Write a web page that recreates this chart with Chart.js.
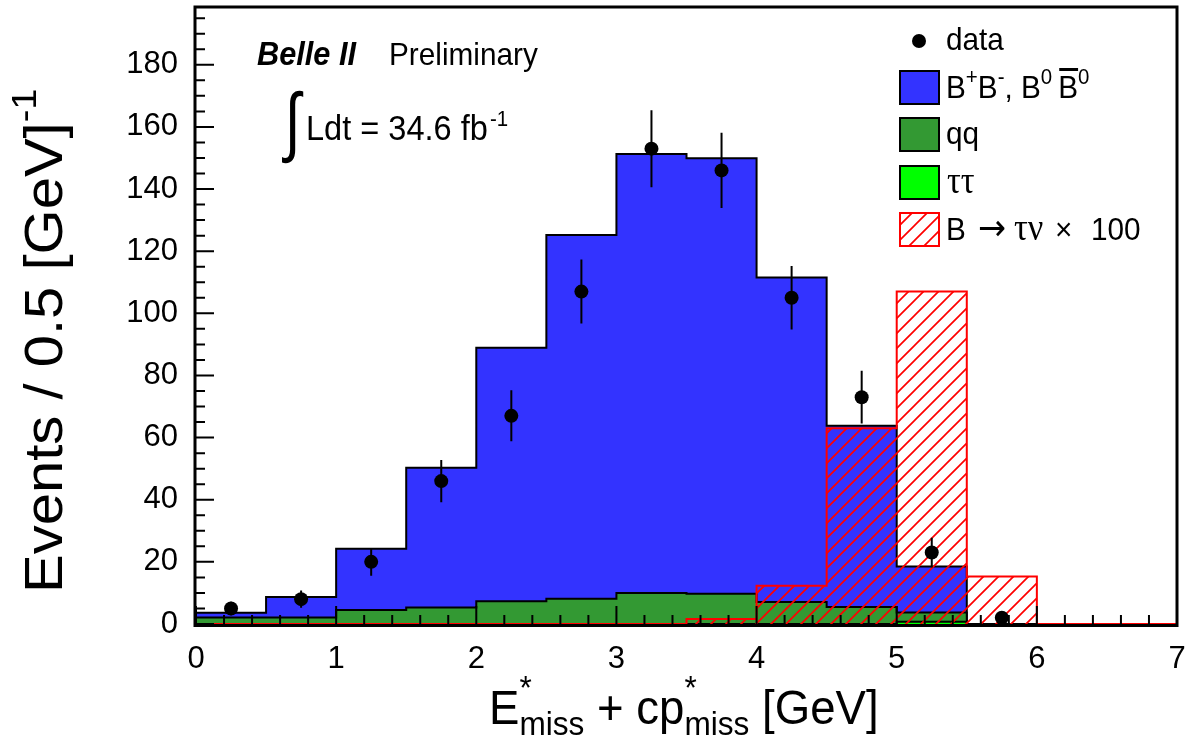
<!DOCTYPE html>
<html>
<head>
<meta charset="utf-8">
<script src="https://cdn.jsdelivr.net/npm/chart.js@4.4.1/dist/chart.umd.min.js"></script>
<style>
  html, body { margin: 0; padding: 0; background: #fff; }
</style>
</head>
<body>
<canvas id="c" width="1199" height="744"></canvas>
<script>
// histogram bins: low edges, 0.5 GeV wide
const binLow = [0, 0.5, 1, 1.5, 2, 2.5, 3, 3.5, 4, 4.5, 5, 5.5, 6, 6.5];
const xMax = 7;

// MC components (stacked: tautau at the bottom, then qq, then B B-bar)
const tautau = [0, 0, 0, 0, 0, 0, 0, 0, 0, 0, 0.7, 0, 0, 0];
const qq     = [2.1, 2.1, 4.5, 5.3, 7.3, 8.1, 10.0, 9.7, 7.1, 5.5, 3.0, 0, 0, 0];
const bbbar  = [1.5, 6.6, 19.7, 45.0, 81.6, 117.1, 141.3, 140.2, 104.4, 58.3, 14.8, 0, 0, 0];
// B -> tau nu signal, scaled x100 (drawn on its own, not stacked)
const signal = [0, 0, 0, 0, 0, 0, 0, 1.6, 12.3, 63.0, 107.0, 15.3, 0, 0];

// data points
const dataX   = [0.25, 0.75, 1.25, 1.75, 2.25, 2.75, 3.25, 3.75, 4.25, 4.75, 5.25, 5.75];
const dataY   = [5, 8, 20, 46, 67, 107, 153, 146, 105, 73, 23, 2];
const dataErr = [2.2, 2.8, 4.5, 6.8, 8.2, 10.3, 12.4, 12.1, 10.2, 8.5, 4.8, 1.4];

const xTickLabels = ['0', '1', '2', '3', '4', '5', '6', '7'];
const yTickLabels = ['0', '20', '40', '60', '80', '100', '120', '140', '160', '180'];

const SANS = '"Liberation Sans", Arial, Helvetica, sans-serif';
const SERIF = '"Liberation Serif", "Times New Roman", serif';
const BLUE = '#3333ff', GREEN = '#339933', LIME = '#00ff00', RED = '#ff0000';
const HX = 0.93; // text in the original is a bit narrow

const canvas = document.getElementById('c');

function hatch() {
    const s = 15;
    const c = document.createElement('canvas');
    c.width = s; c.height = s;
    const g = c.getContext('2d');
    g.strokeStyle = RED;
    g.lineWidth = 1.7;
    g.beginPath();
    g.moveTo(0, s); g.lineTo(s, 0);
    g.moveTo(-2, 2); g.lineTo(2, -2);
    g.moveTo(s - 2, s + 2); g.lineTo(s + 2, s - 2);
    g.stroke();
    return canvas.getContext('2d').createPattern(c, 'repeat');
}
const HATCH = hatch();

// step points from bin contents
const steps = vals => binLow.map((x, i) => ({ x, y: vals[i] })).concat([{ x: xMax, y: vals[vals.length - 1] }]);

const stackTT = tautau;
const stackQQ = qq.map((v, i) => v + tautau[i]);
const stackAll = bbbar.map((v, i) => v + stackQQ[i]);

const histo = (label, vals, fillColor, lineColor, order) => ({
    label,
    data: steps(vals),
    stepped: true,
    fill: 'origin',
    backgroundColor: fillColor,
    borderColor: lineColor,
    borderWidth: 2,
    pointRadius: 0,
    order,
});

// draw a run of text pieces (super/subscripts via dy), slightly condensed
function rich(ctx, x, y, parts) {
    for (const p of parts) {
        ctx.font = p.f;
        ctx.save();
        ctx.translate(x + (p.dx || 0), y + (p.dy || 0));
        ctx.scale(HX, 1);
        ctx.fillText(p.t, 0, 0);
        ctx.restore();
        if (!p.stay) x += ctx.measureText(p.t).width * HX + (p.dx || 0);
    }
    return x;
}

// frame + inward ticks (ROOT style)
const framePlugin = {
    id: 'frame',
    afterDraw(chart) {
        const { ctx, chartArea: a, scales: { x, y } } = chart;
        ctx.save();
        ctx.strokeStyle = '#000';
        ctx.lineWidth = 2;
        ctx.beginPath();
        for (let v = 0; v <= y.max; v += 5) {
            const py = y.getPixelForValue(v);
            ctx.moveTo(a.left, py);
            ctx.lineTo(a.left + (v % 20 === 0 ? 18 : 9), py);
        }
        for (let k = 0; k <= 35; k++) {
            const px = x.getPixelForValue(k * 0.2);
            ctx.moveTo(px, a.bottom);
            ctx.lineTo(px, a.bottom - (k % 5 === 0 ? 18 : 9));
        }
        ctx.stroke();
        ctx.lineWidth = 3;
        ctx.strokeRect(a.left - 1, a.top, a.right - a.left + 1, a.bottom - a.top + 1.5);
        ctx.restore();
    },
};

// error bars for the data points
const errorBarPlugin = {
    id: 'errbars',
    afterDatasetsDraw(chart) {
        const { ctx, chartArea: a, scales: { x, y } } = chart;
        ctx.save();
        ctx.beginPath();
        ctx.rect(a.left, a.top, a.right - a.left, a.bottom - a.top);
        ctx.clip();
        ctx.strokeStyle = '#000';
        ctx.lineWidth = 2;
        ctx.beginPath();
        dataX.forEach((xv, i) => {
            const px = x.getPixelForValue(xv);
            ctx.moveTo(px, y.getPixelForValue(dataY[i] - dataErr[i]));
            ctx.lineTo(px, y.getPixelForValue(dataY[i] + dataErr[i]));
        });
        ctx.stroke();
        ctx.restore();
    },
};

// titles, labels, legend
const textPlugin = {
    id: 'texts',
    afterDraw(chart) {
        const ctx = chart.ctx;
        ctx.save();
        ctx.fillStyle = '#000';
        ctx.textBaseline = 'alphabetic';
        ctx.textAlign = 'left';

        // y title (rotated); rich() squeezes along the text, so undo that and squeeze across
        ctx.save();
        ctx.translate(62, 593);
        ctx.rotate(-Math.PI / 2);
        ctx.scale(1 / HX, HX);
        rich(ctx, 0, 0, [
            { t: 'Events / 0.5 [GeV]', f: `58px ${SANS}` },
            { t: '-1', f: `38px ${SANS}`, dy: -28 },
        ]);
        ctx.restore();

        // x title
        rich(ctx, 489, 724, [
            { t: 'E', f: `49px ${SANS}` },
            { t: '*', f: `34px ${SANS}`, dy: -25, stay: true },
            { t: 'miss', f: `34px ${SANS}`, dy: 11 },
            { t: ' + cp', f: `49px ${SANS}` },
            { t: '*', f: `34px ${SANS}`, dy: -25, stay: true },
            { t: 'miss', f: `34px ${SANS}`, dy: 11 },
            { t: ' [GeV]', f: `49px ${SANS}` },
        ]);

        // Belle II label
        rich(ctx, 257, 65, [{ t: 'Belle II', f: `italic bold 33px ${SANS}` }]);
        rich(ctx, 389, 65, [{ t: 'Preliminary', f: `32px ${SANS}` }]);

        // integral sign stretched into its box
        ctx.save();
        ctx.font = `60px ${SANS}`;
        const m = ctx.measureText('\u222B');
        const gw = m.actualBoundingBoxRight + m.actualBoundingBoxLeft;
        const gh = m.actualBoundingBoxAscent + m.actualBoundingBoxDescent;
        ctx.translate(282, 90);
        ctx.scale(22 / gw, 74 / gh);
        ctx.fillText('\u222B', m.actualBoundingBoxLeft, m.actualBoundingBoxAscent);
        ctx.restore();

        const xe = rich(ctx, 306, 140, [{ t: 'Ldt = 34.6 fb', f: `35px ${SANS}` }]);
        rich(ctx, xe + 2, 126, [{ t: '-1', f: `22px ${SANS}` }]);

        // legend
        ctx.beginPath();
        ctx.arc(919, 41, 7, 0, Math.PI * 2);
        ctx.fill();
        rich(ctx, 946, 50, [{ t: 'data', f: `32px ${SANS}` }]);

        const box = (y, fill, stroke) => {
            ctx.fillStyle = fill;
            ctx.fillRect(900, y, 39, 33);
            ctx.strokeStyle = stroke;
            ctx.lineWidth = 2;
            ctx.strokeRect(900, y, 39, 33);
            ctx.fillStyle = '#000';
        };
        box(71, BLUE, '#000');
        box(118, GREEN, '#000');
        box(166, LIME, '#000');
        box(213, HATCH, RED);

        const sup = t => ({ t, f: `22px ${SANS}`, dy: -14 });
        let xb = rich(ctx, 946, 98, [
            { t: 'B', f: `32px ${SANS}` }, sup('+'),
            { t: 'B', f: `32px ${SANS}` }, sup('-'),
            { t: ', B', f: `32px ${SANS}` }, sup('0'),
        ]);
        xb += 6;
        ctx.font = `32px ${SANS}`;
        const bw = ctx.measureText('B').width * HX;
        ctx.fillRect(xb + 1, 68, bw - 1, 3);
        rich(ctx, xb, 98, [{ t: 'B', f: `32px ${SANS}` }, sup('0')]);

        rich(ctx, 946, 144, [{ t: 'qq', f: `32px ${SANS}` }]);
        rich(ctx, 947, 193, [{ t: '\u03C4\u03C4', f: `37px ${SERIF}` }]);

        rich(ctx, 946, 240, [{ t: 'B', f: `32px ${SANS}` }]);
        rich(ctx, 978, 240, [{ t: '\u2192', f: `36px "DejaVu Sans", ${SANS}` }]);
        rich(ctx, 1014, 240, [{ t: '\u03C4\u03BD', f: `37px ${SERIF}` }]);
        rich(ctx, 1055, 240, [{ t: '\u00D7', f: `32px ${SANS}` }]);
        rich(ctx, 1091, 240, [{ t: '100', f: `32px ${SANS}` }]);

        ctx.restore();
    },
};

new Chart(canvas, {
    type: 'line',
    plugins: [errorBarPlugin, framePlugin, textPlugin],
    data: {
        datasets: [
            {
                label: 'data',
                type: 'scatter',
                data: dataX.map((x, i) => ({ x, y: dataY[i] })),
                pointRadius: 7,
                pointBackgroundColor: '#000',
                pointBorderWidth: 0,
                showLine: false,
                order: 0,
            },
            histo('B -> tau nu x100', signal, HATCH, RED, 1),
            histo('tautau', stackTT, LIME, '#000', 2),
            histo('qq', stackQQ, GREEN, '#000', 3),
            histo('B+B-, B0B0bar', stackAll, BLUE, '#000', 4),
        ],
    },
    options: {
        responsive: false,
        animation: false,
        devicePixelRatio: 1,
        layout: { padding: { top: 1, right: 22, left: 0, bottom: 0 } },
        plugins: {
            legend: { display: false },
            tooltip: { enabled: false },
        },
        scales: {
            x: {
                type: 'linear',
                min: 0,
                max: xMax,
                grid: { display: false, drawTicks: false },
                border: { display: false },
                afterFit: s => { s.height = 120; s.paddingLeft = 0; s.paddingRight = 0; },
                ticks: {
                    stepSize: 1,
                    padding: 17,
                    color: '#000',
                    font: { family: SANS, size: 31 },
                    maxRotation: 0,
                    callback: v => xTickLabels[v] ?? '',
                },
            },
            y: {
                type: 'linear',
                min: 0,
                max: 198.6,
                grid: { display: false, drawTicks: false },
                border: { display: false },
                afterFit: s => { s.width = 196; s.paddingTop = 0; s.paddingBottom = 0; },
                ticks: {
                    stepSize: 20,
                    includeBounds: false,
                    padding: 18,
                    color: '#000',
                    font: { family: SANS, size: 31 },
                    callback: v => yTickLabels[v / 20] ?? '',
                },
            },
        },
    },
});
</script>
</body>
</html>
